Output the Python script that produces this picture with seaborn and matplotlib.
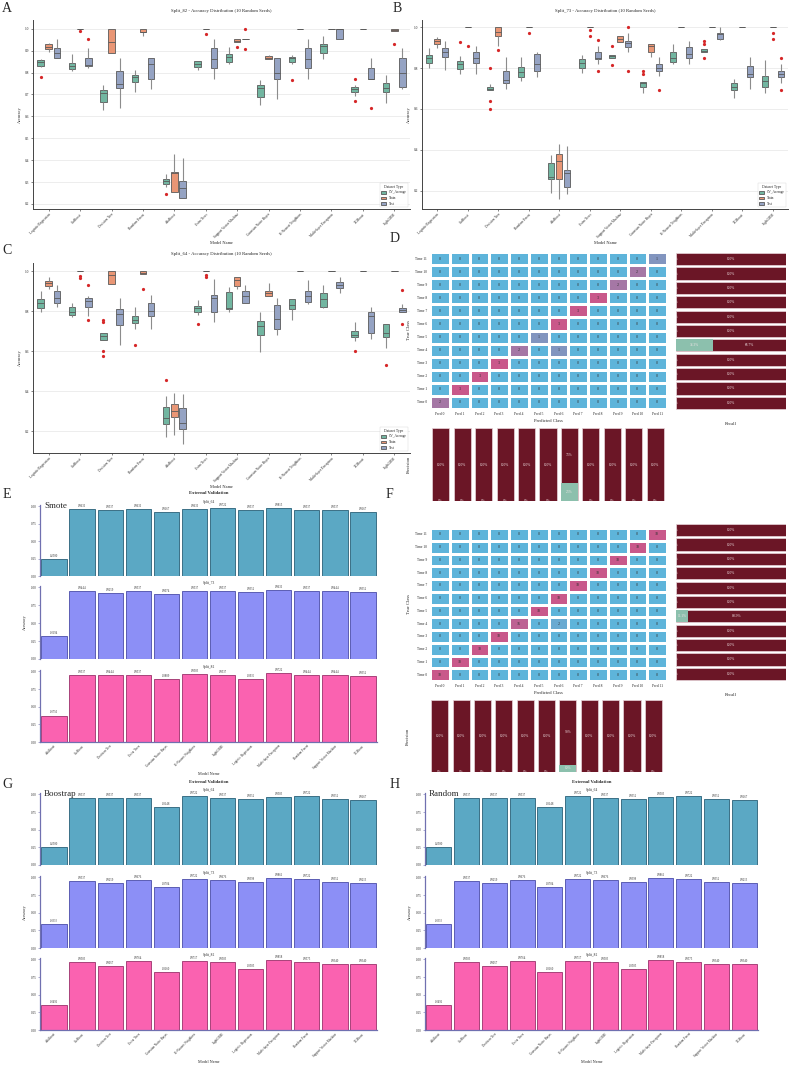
import numpy as np
import pandas as pd
import matplotlib
matplotlib.use("Agg")
import matplotlib.pyplot as plt
import seaborn as sns
from matplotlib.colors import LinearSegmentedColormap

sns.set_theme(style="whitegrid")
plt.rcParams['font.family'] = ['Liberation Serif', 'DejaVu Serif']

# ---------------- data ----------------
box_models = ["Logistic Regression", "CatBoost", "Decision Tree", "Random Forest", "AdaBoost",
              "Extra Trees", "Support Vector Machine", "Gaussian Naive Bayes", "K-Nearest Neighbors",
              "Multi-layer Perceptron", "XGBoost", "LightGBM"]
dataset_types = ["CV_Average", "Train", "Test"]

# box summaries: (whisker low, q1, median, q3, whisker high, outliers)
A_cv = [(0.826, 0.828, 0.848, 0.857, 0.862, [0.778]), (0.805, 0.815, 0.828, 0.845, 0.883, []),
        (0.628, 0.667, 0.705, 0.720, 0.745, []), (0.710, 0.755, 0.780, 0.787, 0.813, []),
        (0.278, 0.290, 0.303, 0.312, 0.335, [0.245]), (0.810, 0.827, 0.840, 0.852, 0.852, []),
        (0.838, 0.850, 0.873, 0.885, 0.918, []), (0.650, 0.690, 0.728, 0.745, 0.768, []),
        (0.838, 0.850, 0.865, 0.872, 0.882, [0.767]), (0.860, 0.888, 0.920, 0.930, 0.965, []),
        (0.695, 0.710, 0.723, 0.733, 0.745, [0.770, 0.672]), (0.660, 0.712, 0.728, 0.753, 0.790, [])]
A_train = [(0.895, 0.909, 0.918, 0.930, 0.935, []), (1.0, 1.0, 1.0, 1.0, 1.0, [0.988]),
           (0.890, 0.890, 0.940, 0.997, 1.0, []), (0.965, 0.983, 0.985, 1.0, 1.0, []),
           (0.253, 0.253, 0.343, 0.348, 0.430, []), (1.0, 1.0, 1.0, 1.0, 1.0, [0.975]),
           (0.940, 0.940, 0.945, 0.955, 0.955, [0.915]), (0.860, 0.860, 0.865, 0.875, 0.882, []),
           (1.0, 1.0, 1.0, 1.0, 1.0, []), (1.0, 1.0, 1.0, 1.0, 1.0, []),
           (1.0, 1.0, 1.0, 1.0, 1.0, []), (0.990, 0.990, 0.995, 1.0, 1.0, [0.930])]
A_test = [(0.865, 0.865, 0.888, 0.910, 0.955, []), (0.820, 0.830, 0.835, 0.866, 0.910, [0.955]),
          (0.637, 0.728, 0.750, 0.807, 0.865, []), (0.727, 0.772, 0.840, 0.866, 0.866, []),
          (0.225, 0.225, 0.272, 0.305, 0.410, []), (0.820, 0.820, 0.863, 0.910, 0.955, [0.772]),
          (0.955, 0.955, 0.955, 0.955, 0.955, [1.0, 0.908]), (0.680, 0.772, 0.797, 0.865, 0.865, []),
          (0.820, 0.820, 0.862, 0.910, 0.955, [0.772]), (0.955, 0.955, 1.0, 1.0, 1.0, []),
          (0.772, 0.772, 0.772, 0.820, 0.866, [0.637]), (0.727, 0.733, 0.798, 0.866, 0.910, [])]

B_cv = [(0.800, 0.825, 0.848, 0.863, 0.900, []), (0.770, 0.796, 0.820, 0.837, 0.858, [0.930]),
        (0.693, 0.693, 0.700, 0.706, 0.720, [0.800, 0.640, 0.600]), (0.735, 0.758, 0.780, 0.804, 0.855, []),
        (0.190, 0.256, 0.265, 0.333, 0.375, []), (0.775, 0.802, 0.825, 0.845, 0.865, []),
        (0.850, 0.852, 0.860, 0.865, 0.865, [0.910, 0.815]), (0.680, 0.710, 0.725, 0.730, 0.730, [0.785, 0.770]),
        (0.820, 0.828, 0.848, 0.880, 0.918, []), (0.877, 0.877, 0.885, 0.892, 0.892, [0.935, 0.920, 0.850]),
        (0.655, 0.693, 0.710, 0.727, 0.745, []), (0.680, 0.706, 0.735, 0.762, 0.840, [])]
B_train = [(0.900, 0.920, 0.935, 0.944, 0.955, []), (1.0, 1.0, 1.0, 1.0, 1.0, [0.910]),
           (0.910, 0.960, 0.975, 1.0, 1.0, [0.890]), (1.0, 1.0, 1.0, 1.0, 1.0, [0.970]),
           (0.160, 0.256, 0.345, 0.378, 0.430, []), (1.0, 1.0, 1.0, 1.0, 1.0, [0.985, 0.960]),
           (0.930, 0.930, 0.945, 0.958, 0.960, []), (0.853, 0.880, 0.910, 0.918, 0.920, []),
           (1.0, 1.0, 1.0, 1.0, 1.0, []), (1.0, 1.0, 1.0, 1.0, 1.0, []),
           (1.0, 1.0, 1.0, 1.0, 1.0, []), (1.0, 1.0, 1.0, 1.0, 1.0, [0.970, 0.945])]
B_test = [(0.853, 0.853, 0.878, 0.900, 0.935, [0.790]), (0.770, 0.823, 0.850, 0.880, 0.910, []),
          (0.700, 0.726, 0.740, 0.786, 0.855, []), (0.757, 0.786, 0.820, 0.870, 0.878, []),
          (0.185, 0.220, 0.285, 0.300, 0.418, []), (0.820, 0.845, 0.850, 0.878, 0.910, [0.940, 0.785]),
          (0.880, 0.905, 0.925, 0.935, 0.970, [1.0, 0.785]), (0.760, 0.786, 0.800, 0.818, 0.853, [0.695]),
          (0.820, 0.850, 0.867, 0.905, 0.935, []), (0.940, 0.944, 0.965, 0.970, 1.0, []),
          (0.700, 0.755, 0.772, 0.810, 0.855, []), (0.726, 0.755, 0.772, 0.786, 0.820, [0.850, 0.695])]

C_cv = [(0.795, 0.815, 0.840, 0.860, 0.900, []), (0.770, 0.780, 0.795, 0.820, 0.840, []),
        (0.655, 0.656, 0.675, 0.690, 0.690, [0.758, 0.745, 0.600, 0.575]), (0.710, 0.740, 0.755, 0.778, 0.820, [0.630]),
        (0.170, 0.235, 0.267, 0.322, 0.375, [0.455]), (0.780, 0.798, 0.815, 0.827, 0.855, [0.735]),
        (0.795, 0.810, 0.815, 0.895, 0.920, []), (0.595, 0.680, 0.725, 0.750, 0.795, []),
        (0.755, 0.810, 0.830, 0.860, 0.860, []), (0.815, 0.823, 0.860, 0.890, 0.930, []),
        (0.650, 0.670, 0.680, 0.703, 0.745, [0.600]), (0.615, 0.670, 0.690, 0.735, 0.735, [0.530])]
C_train = [(0.910, 0.927, 0.940, 0.952, 0.970, []), (1.0, 1.0, 1.0, 1.0, 1.0, [0.975, 0.965]),
           (0.937, 0.937, 0.980, 1.0, 1.0, []), (0.985, 0.985, 0.990, 1.0, 1.0, [0.910]),
           (0.180, 0.268, 0.300, 0.338, 0.390, []), (1.0, 1.0, 1.0, 1.0, 1.0, [0.980, 0.970]),
           (0.910, 0.925, 0.955, 0.970, 0.970, []), (0.876, 0.876, 0.890, 0.903, 0.940, []),
           (1.0, 1.0, 1.0, 1.0, 1.0, []), (1.0, 1.0, 1.0, 1.0, 1.0, []),
           (1.0, 1.0, 1.0, 1.0, 1.0, []), (1.0, 1.0, 1.0, 1.0, 1.0, [])]
C_test = [(0.820, 0.840, 0.865, 0.903, 0.930, []), (0.775, 0.823, 0.850, 0.865, 0.875, [0.930, 0.755]),
          (0.630, 0.730, 0.785, 0.812, 0.865, []), (0.710, 0.778, 0.800, 0.840, 0.880, []),
          (0.135, 0.212, 0.240, 0.313, 0.385, []), (0.745, 0.798, 0.865, 0.880, 0.960, []),
          (0.840, 0.840, 0.875, 0.903, 0.930, []), (0.680, 0.710, 0.760, 0.832, 0.865, []),
          (0.835, 0.845, 0.875, 0.903, 0.955, []), (0.893, 0.915, 0.930, 0.947, 0.970, []),
          (0.660, 0.690, 0.775, 0.795, 0.820, []), (0.795, 0.795, 0.807, 0.818, 0.835, [0.905, 0.735])]

# confusion matrices (Time 0 .. Time 11 on the diagonal) + off-diagonal cells (row, col, count)
D_diag = [2, 3, 3, 3, 2, 1, 3, 3, 3, 2, 2, 1]
D_off = [(4, 6, 1)]
F_diag = [18, 18, 18, 18, 16, 18, 18, 18, 18, 18, 18, 18]
F_off = [(4, 6, 2)]

# external validation accuracies
bar_models = ["AdaBoost", "CatBoost", "Decision Tree", "Extra Trees", "Gaussian Naive Bayes",
              "K-Nearest Neighbors", "LightGBM", "Logistic Regression", "Multi-layer Perceptron",
              "Random Forest", "Support Vector Machine", "XGBoost"]
E_64 = [0.2500, 0.9630, 0.9537, 0.9630, 0.9167, 0.9630, 0.9722, 0.9537, 0.9815, 0.9537, 0.9537, 0.9167]
E_73 = [0.3194, 0.9444, 0.9259, 0.9537, 0.9074, 0.9537, 0.9537, 0.9352, 0.9630, 0.9537, 0.9444, 0.9352]
E_82 = [0.3750, 0.9537, 0.9444, 0.9537, 0.8889, 0.9583, 0.9537, 0.8935, 0.9722, 0.9444, 0.9444, 0.9352]
G_64 = [0.2500, 0.9537, 0.9537, 0.9537, 0.8148, 0.9722, 0.9537, 0.9352, 0.9583, 0.9722, 0.9352, 0.9167]
G_73 = [0.3333, 0.9537, 0.9259, 0.9676, 0.8704, 0.9722, 0.9676, 0.9398, 0.9861, 0.9722, 0.9352, 0.9213]
G_82 = [0.3491, 0.9583, 0.9057, 0.9764, 0.8160, 0.9717, 0.9583, 0.8585, 0.9858, 0.9575, 0.9340, 0.9340]
# the Random panel shows the same numbers as Boostrap
H_64, H_73, H_82 = G_64, G_73, G_82

# ---------------- style ----------------
box_colors = ["#66c2a5", "#fc8d62", "#8da0cb"]
split_colors = [("#5ba8c4", "#3b6f86"), ("#8c8ff6", "#5b5db3"), ("#fa62b0", "#a8427a")]
dark_red = "#6b1626"
err_green = "#8cc0ad"
cm_cmap = LinearSegmentedColormap.from_list("cmb", ["#5eb4da", "#c9588a"])
spine_col = "#7070b0"

W, H = 791, 1068
fig = plt.figure(figsize=(W / 100, H / 100), dpi=100)


def add_ax(x0, y0, x1, y1):
    return fig.add_axes([x0 / W, 1 - y1 / H, (x1 - x0) / W, (y1 - y0) / H])


def expand(st):
    lo, q1, med, q3, hi, out = st
    return [lo] + [q1] * 4 + [med] * 4 + [q3] * 4 + [hi] + list(out)


def box_panel(box, cv, train, test, title, ylim, ticks):
    rows = []
    for name, series in zip(dataset_types, (cv, train, test)):
        for model, st in zip(box_models, series):
            for v in expand(st):
                rows.append((model, name, v))
    df = pd.DataFrame(rows, columns=["Model Name", "Dataset Type", "Accuracy"])
    ax = add_ax(*box)
    sns.boxplot(data=df, x="Model Name", y="Accuracy", hue="Dataset Type", order=box_models,
                hue_order=dataset_types, palette=box_colors, width=0.78, gap=0.2,
                linewidth=0.6, linecolor="0.35", showcaps=False, fliersize=1.3,
                whiskerprops=dict(color="0.55", linewidth=0.8),
                flierprops=dict(marker="o", markerfacecolor="#d62728", markeredgecolor="#d62728"),
                ax=ax)
    ax.set_ylim(*ylim)
    ax.set_yticks(ticks)
    ax.set_yticklabels([f"{t:.1f}" for t in ticks])
    ax.xaxis.grid(False)
    ax.yaxis.grid(True, color="#e6e6e6", linewidth=0.5)
    ax.set_title(title, fontsize=3.4, pad=6)
    ax.set_xlabel("Model Name", fontsize=3.2, labelpad=1)
    ax.set_ylabel("Accuracy", fontsize=3.2, labelpad=2)
    ax.tick_params(axis="x", labelsize=2.5, length=1.5, width=0.4, pad=1, bottom=True)
    ax.tick_params(axis="y", labelsize=2.5, length=1.5, width=0.4, pad=1, left=True)
    plt.setp(ax.get_xticklabels(), rotation=45, ha="right", rotation_mode="anchor")
    sns.despine(ax=ax)
    for s in ("left", "bottom"):
        ax.spines[s].set_color("#444444")
        ax.spines[s].set_linewidth(0.7)
    leg = ax.legend(title="Dataset Type", loc="lower right", fontsize=2.5, title_fontsize=2.7,
                    frameon=True, borderpad=0.4, handlelength=1.5, handleheight=0.8)
    leg.get_frame().set_linewidth(0.3)
    return ax


def pct(v):
    return f"{round(v * 100, 1):g}%"


def cm_panel(hm_box, rec_box, prec_box, diag, off):
    n = len(diag)
    cm = np.diag(diag).astype(int)
    for r, c, v in off:
        cm[r, c] = v
    df = pd.DataFrame(cm[::-1], index=[f"Time {i}" for i in range(n - 1, -1, -1)],
                      columns=[f"Pred {i}" for i in range(n)])
    ax = add_ax(*hm_box)
    sns.heatmap(df, cmap=cm_cmap, vmin=0, vmax=cm.max(), annot=True, fmt="d",
                annot_kws=dict(size=3, color="#333333"), linewidths=0.8, linecolor="white",
                cbar=False, xticklabels=True, yticklabels=True, ax=ax)
    ax.tick_params(axis="both", labelsize=2.6, length=0, pad=2)
    plt.setp(ax.get_yticklabels(), rotation=0)
    plt.setp(ax.get_xticklabels(), rotation=0)
    ax.set_xlabel("Predicted Class", fontsize=3.3, labelpad=2)
    ax.set_ylabel("True Class", fontsize=3.3, labelpad=3)

    k = n - 1  # the side bars show classes 0..10
    recall = (cm.diagonal() / cm.sum(axis=1))[:k]
    precision = (cm.diagonal() / cm.sum(axis=0))[:k]

    ax_r = add_ax(*rec_box)
    labels = [f"Time {i}" for i in range(k - 1, -1, -1)]
    rec = recall[::-1]
    err = 1 - rec
    sns.barplot(x=rec + err, y=labels, orient="h", color=dark_red, saturation=1, width=0.85,
                edgecolor="#e9d6da", linewidth=0.5, ax=ax_r)
    sns.barplot(x=err, y=labels, orient="h", color=err_green, saturation=1, width=0.85,
                linewidth=0, ax=ax_r)
    for i, (r, e) in enumerate(zip(rec, err)):
        ax_r.text(e / 2, i, pct(e), ha="center", va="center", fontsize=2.6, color="#f2e6e8", clip_on=True)
        ax_r.text(e + r / 2, i, pct(r), ha="center", va="center", fontsize=2.6, color="#f2e6e8", clip_on=True)
    ax_r.set_xlim(0, 1)
    ax_r.set_xticks([])
    ax_r.set_yticks([])
    ax_r.set_ylabel("")
    ax_r.set_xlabel("Recall", fontsize=3.3, labelpad=9)
    ax_r.grid(False)
    for s in ax_r.spines.values():
        s.set_visible(False)

    ax_p = add_ax(*prec_box)
    plabels = [f"Pred {i}" for i in range(k)]
    perr = 1 - precision
    sns.barplot(x=plabels, y=precision + perr, color=dark_red, saturation=1, width=0.8,
                edgecolor="#e9d6da", linewidth=0.5, ax=ax_p)
    sns.barplot(x=plabels, y=perr, color=err_green, saturation=1, width=0.8, linewidth=0, ax=ax_p)
    for i, (p, e) in enumerate(zip(precision, perr)):
        ax_p.text(i, e / 2, pct(e), ha="center", va="center", fontsize=2.6, color="#f2e6e8", clip_on=True)
        ax_p.text(i, e + p / 2, pct(p), ha="center", va="center", fontsize=2.6, color="#f2e6e8", clip_on=True)
    ax_p.set_ylim(0, 1)
    ax_p.set_xlim(-0.5, k - 0.5)
    ax_p.set_xticks([])
    ax_p.set_yticks([])
    ax_p.set_xlabel("")
    ax_p.set_ylabel("Precision", fontsize=3.3, labelpad=14)
    ax_p.grid(False)
    for s in ax_p.spines.values():
        s.set_visible(False)


def bar_group(x0, x1, ys, series, tag, title_y):
    axes = []
    for j, ((y0, y1), (vals, split), (col, edge)) in enumerate(zip(ys, series, split_colors)):
        ax = add_ax(x0, y0, x1, y1)
        sns.barplot(x=bar_models, y=vals, color=col, saturation=1, edgecolor=edge,
                    linewidth=0.7, width=0.9, ax=ax)
        for i, v in enumerate(vals):
            ax.text(i, v + 0.015, f"{v:.4f}", ha="center", va="bottom", fontsize=2.2, color="#333333")
        ax.set_ylim(0, 1.02)
        ax.set_xlim(-0.5, len(bar_models) - 0.5)
        ax.set_yticks([0, 0.25, 0.5, 0.75, 1.0])
        ax.set_yticklabels(["0.00", "0.25", "0.50", "0.75", "1.00"])
        ax.grid(False)
        ax.set_facecolor("white")
        ax.set_title(split, fontsize=2.6, pad=1.5)
        ax.tick_params(axis="y", labelsize=2.3, length=1.5, width=0.4, pad=1, left=True, color=spine_col)
        for s in ("top", "right"):
            ax.spines[s].set_visible(False)
        ax.spines["left"].set_color(spine_col)
        ax.spines["left"].set_linewidth(0.9)
        ax.set_xlabel("")
        ax.set_ylabel("")
        if j < 2:
            ax.spines["bottom"].set_visible(False)
            ax.set_xticks([])
        else:
            ax.spines["bottom"].set_color(spine_col)
            ax.spines["bottom"].set_linewidth(0.9)
            ax.tick_params(axis="x", labelsize=2.3, length=0, pad=1.5)
            plt.setp(ax.get_xticklabels(), rotation=45, ha="right", rotation_mode="anchor")
            ax.set_xlabel("Model Name", fontsize=3.0, labelpad=2)
        if j == 1:
            ax.set_ylabel("Accuracy", fontsize=3.0, labelpad=3)
        axes.append(ax)
    axes[0].text(0.012, 0.985, tag, transform=axes[0].transAxes, fontsize=6.5, ha="left", va="center")
    fig.text((x0 + x1) / 2 / W, 1 - title_y / H, "External Validation", fontsize=3.3,
             fontweight="bold", ha="center", va="center")
    return axes


# ---------------- panels ----------------
box_panel((33, 20, 410, 209), A_cv, A_train, A_test,
          "Split_82 - Accuracy Distribution (10 Random Seeds)", (0.177, 1.04),
          [0.2, 0.3, 0.4, 0.5, 0.6, 0.7, 0.8, 0.9, 1.0])
box_panel((422, 20, 788, 209), B_cv, B_train, B_test,
          "Split_73 - Accuracy Distribution (10 Random Seeds)", (0.11, 1.036),
          [0.2, 0.4, 0.6, 0.8, 1.0])
box_panel((33, 263, 410, 453), C_cv, C_train, C_test,
          "Split_64 - Accuracy Distribution (10 Random Seeds)", (0.09, 1.042),
          [0.2, 0.4, 0.6, 0.8, 1.0])

cm_panel((430, 252, 667, 409), (676, 252, 786, 410), (430, 428, 666, 501), D_diag, D_off)
cm_panel((430, 528, 667, 681), (676, 523, 786, 681), (429, 700, 664, 772), F_diag, F_off)

split_names = ["Split_64", "Split_73", "Split_82"]
bar_group(40, 377, [(505, 576), (586, 659), (670, 742)],
          list(zip([E_64, E_73, E_82], split_names)), "Smote", 493)
bar_group(40, 377, [(793, 865), (876, 948), (958, 1030)],
          list(zip([G_64, G_73, G_82], split_names)), "Boostrap", 782)
bar_group(425, 758, [(793, 865), (876, 948), (958, 1030)],
          list(zip([H_64, H_73, H_82], split_names)), "Random", 782)

for letter, (x, y) in {"A": (7, 9), "B": (397, 8), "C": (7, 251), "D": (395, 238),
                       "E": (7, 494), "F": (389, 494), "G": (7, 784), "H": (395, 784)}.items():
    fig.text(x / W, 1 - y / H, letter, fontsize=10, ha="center", va="center")

fig.savefig("out.png", dpi=100)
